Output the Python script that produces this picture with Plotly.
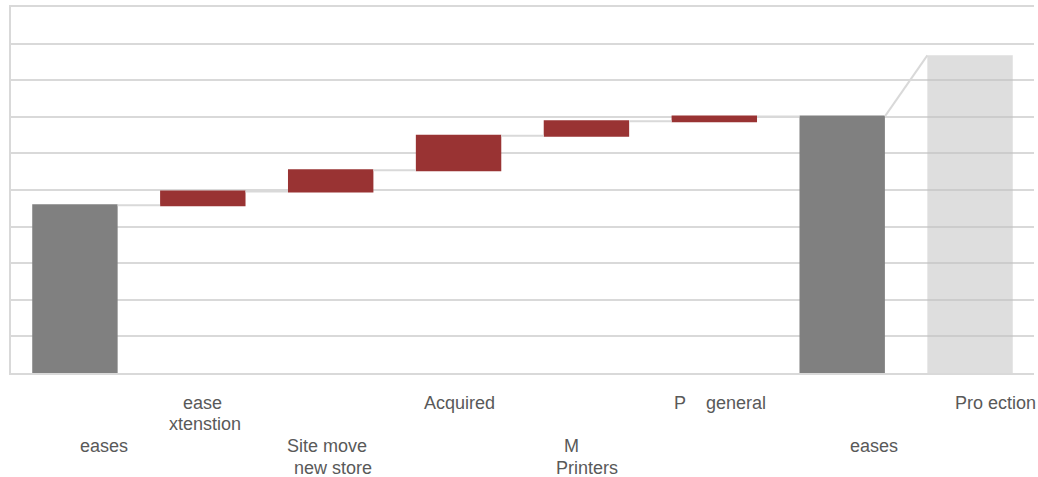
import plotly.graph_objects as go

# Waterfall data
categories = ["Opening leases", "Lease extension", "Site move / new store", "Acquired",
              "MFD Printers", "PC general", "Closing leases", "Projection"]
measures = ["absolute", "relative", "relative", "relative", "relative", "relative", "total"]
steps = [45.8, 3.8, 5.8, 9.4, 4.0, 1.3, 0]
projection = 86.8

# Category label text, split into lines, with the row where each label starts
label_lines = [["eases"], ["ease", "xtenstion"], ["Site move", "new store"], ["Acquired"],
               ["M", "Printers"], ["P\u00a0\u00a0\u00a0\u00a0general"], ["eases"], ["Pro ection"]]
label_start_row = [2, 0, 2, 0, 2, 0, 2, 0]
label_dx = [[29], [0, 2], [-4, 2], [1], [-15, 1], [6], [32], [25]]

RED = "#993333"
GREY = "#808080"
GRID = "#d9d9d9"
TEXT = "#595959"
BAR_W = 0.668

n_wf = len(steps)
x_wf = list(range(n_wf))
x_proj = n_wf

# running total at the last waterfall bar
total = 0.0
for m, s in zip(measures, steps):
    if m == "absolute":
        total = s
    elif m == "relative":
        total += s

fig = go.Figure()

fig.add_trace(go.Waterfall(
    x=x_wf, y=steps, measure=measures, width=BAR_W,
    increasing=dict(marker=dict(color=RED, line=dict(width=0))),
    decreasing=dict(marker=dict(color=RED, line=dict(width=0))),
    totals=dict(marker=dict(color=GREY, line=dict(width=0))),
    connector=dict(line=dict(color=GRID, width=2), mode="between"),
    hoverinfo="skip", showlegend=False,
))

fig.add_trace(go.Bar(
    x=[x_proj], y=[projection], width=BAR_W,
    marker=dict(color="rgba(192,192,192,0.53)", line=dict(width=0)),
    hoverinfo="skip", showlegend=False,
))

# slanted connector from the closing total to the projection
fig.add_trace(go.Scatter(
    x=[x_wf[-1] + BAR_W / 2, x_proj - BAR_W / 2], y=[total, projection],
    mode="lines", line=dict(color=GRID, width=2),
    hoverinfo="skip", showlegend=False,
))

row_px = [30, 51, 73, 95]
annotations = []
for i, lines in enumerate(label_lines):
    for j, line in enumerate(lines):
        annotations.append(dict(
            x=i, xref="x", y=0, yref="paper",
            text=line, showarrow=False,
            xanchor="center", yanchor="middle",
            xshift=label_dx[i][j], yshift=-row_px[label_start_row[i] + j],
            font=dict(family="Liberation Sans, Arial", size=18, color=TEXT),
        ))

fig.update_layout(
    width=1038, height=477,
    margin=dict(l=11, r=4, t=7, b=104),
    paper_bgcolor="white", plot_bgcolor="white",
    barmode="overlay",
    annotations=annotations,
    xaxis=dict(range=[-0.5, n_wf + 0.5], showgrid=False, zeroline=False,
               showticklabels=False, ticks="", showline=True, mirror=True,
               linecolor=GRID, linewidth=1.5, fixedrange=True),
    yaxis=dict(range=[0, 100], dtick=10, showgrid=True, gridcolor=GRID, gridwidth=1.5,
               zeroline=False, showticklabels=False, ticks="",
               showline=True, linecolor=GRID, linewidth=1.5, fixedrange=True),
)

fig.write_html("out.html")
